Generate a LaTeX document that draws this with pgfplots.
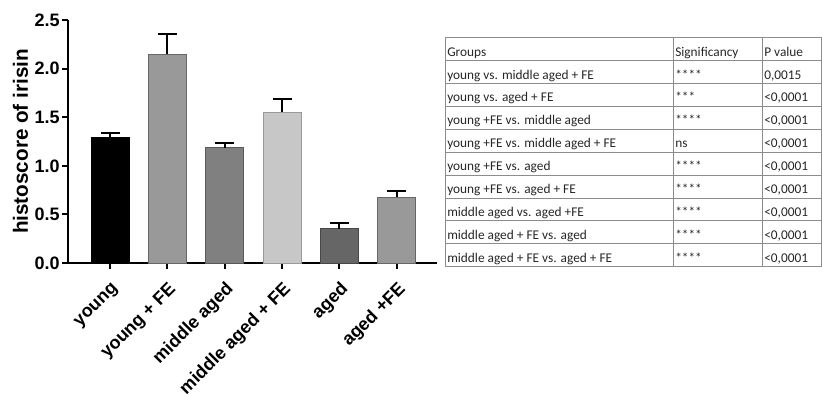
\documentclass[border=0pt]{standalone}
\usepackage{fontspec}
\setmainfont{Liberation Sans}
\newfontfamily\calib{Carlito}
\usepackage{pgfplots}
\pgfplotsset{compat=1.18}
\pgfplotsset{
  errst/.style={error bars/.cd, y dir=plus, y explicit,
    error bar style={line width=1.5pt, black},
    error mark options={rotate=90, mark size=7.1pt, line width=1.5pt, black}},
}
\begin{document}
\begin{tikzpicture}
\useasboundingbox (0,0) rectangle (616.5pt,295.5pt);
\begin{axis}[
  at={(51pt,98.25pt)}, anchor=south west,
  scale only axis, width=276.75pt, height=182.25pt,
  xmin=-0.733, xmax=5.70, ymin=0, ymax=2.5,
  axis lines=left, axis line style={-, line width=1.5pt},
  ybar, bar width=28.5pt, bar shift=0pt,
  xtick={0,1,2,3,4,5},
  xticklabels={young, young + FE, middle aged, middle aged + FE, aged, aged +FE},
  ytick={0,0.5,1,1.5,2,2.5},
  tick align=outside, major tick length=4.5pt,
  tick style={line width=1.5pt, black},
  xticklabel style={xshift=4.6pt, yshift=-13.2pt, rotate=45, anchor=east, inner sep=0pt, font=\bfseries\fontsize{13.5}{15}\selectfont},
  yticklabel style={font=\bfseries\fontsize{13.5}{15}\selectfont, inner sep=1.5pt},
  /pgf/number format/.cd, fixed, fixed zerofill, precision=1, assume math mode=true,
  /pgfplots/.cd,
  ylabel={histoscore of irisin},
  ylabel style={font=\bfseries\fontsize{15.5}{18}\selectfont},
  clip=false,
]
\addplot[fill=black, draw=black, line width=0.6pt, errst] coordinates {(0,1.289) +- (0,0.045)};
\addplot[fill=black!40, draw=black!60, line width=0.6pt, errst] coordinates {(1,2.147) +- (0,0.209)};
\addplot[fill=black!50, draw=black!65, line width=0.6pt, errst] coordinates {(2,1.186) +- (0,0.045)};
\addplot[fill=black!22, draw=black!40, line width=0.6pt, errst] coordinates {(3,1.553) +- (0,0.131)};
\addplot[fill=black!60, draw=black!72, line width=0.6pt, errst] coordinates {(4,0.353) +- (0,0.055)};
\addplot[fill=black!40, draw=black!60, line width=0.6pt, errst] coordinates {(5,0.676) +- (0,0.065)};
\end{axis}
\begin{scope}[x=0.75pt, y=-0.75pt, shift={(0,295.5pt)}]
  \draw[black!45, line width=0.75pt] (445,37.7) rectangle (821,266.7);
  \foreach \yy in {60.6,83.5,106.4,129.3,152.2,175.1,198.0,220.9,243.8}
    \draw[black!45, line width=0.75pt] (445,\yy) -- (821,\yy);
  \draw[black!45, line width=0.75pt] (673,37.7) -- (673,266.7);
  \draw[black!45, line width=0.75pt] (762,37.7) -- (762,266.7);
  \tikzset{tt/.style={anchor=base west, inner sep=0pt, font=\calib\fontsize{10}{12}\selectfont, text=black!85}}
  \node[tt] at (447,56.1) {Groups};
  \node[tt] at (675,56.1) {Significancy};
  \node[tt] at (764,56.1) {P value};
  \node[tt] at (447,79.0) {young vs. middle aged + FE};
  \node[tt] at (675,79.0) {****};
  \node[tt] at (764,79.0) {0,0015};
  \node[tt] at (447,101.9) {young vs. aged + FE};
  \node[tt] at (675,101.9) {***};
  \node[tt] at (764,101.9) {<0,0001};
  \node[tt] at (447,124.8) {young +FE vs. middle aged};
  \node[tt] at (675,124.8) {****};
  \node[tt] at (764,124.8) {<0,0001};
  \node[tt] at (447,147.7) {young +FE vs. middle aged + FE};
  \node[tt] at (675,147.7) {ns};
  \node[tt] at (764,147.7) {<0,0001};
  \node[tt] at (447,170.6) {young +FE vs. aged};
  \node[tt] at (675,170.6) {****};
  \node[tt] at (764,170.6) {<0,0001};
  \node[tt] at (447,193.5) {young +FE vs. aged + FE};
  \node[tt] at (675,193.5) {****};
  \node[tt] at (764,193.5) {<0,0001};
  \node[tt] at (447,216.4) {middle aged vs. aged +FE};
  \node[tt] at (675,216.4) {****};
  \node[tt] at (764,216.4) {<0,0001};
  \node[tt] at (447,239.3) {middle aged + FE vs. aged};
  \node[tt] at (675,239.3) {****};
  \node[tt] at (764,239.3) {<0,0001};
  \node[tt] at (447,262.2) {middle aged + FE vs. aged + FE};
  \node[tt] at (675,262.2) {****};
  \node[tt] at (764,262.2) {<0,0001};
\end{scope}
\end{tikzpicture}
\end{document}
